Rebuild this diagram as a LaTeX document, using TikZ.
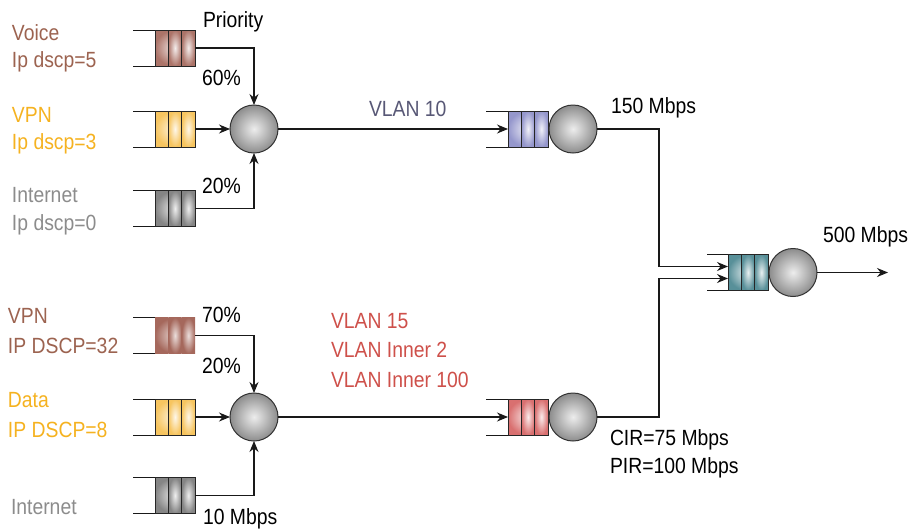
\documentclass[tikz,border=0pt]{standalone}
\usepackage{fontspec}
\setmainfont[FakeStretch=0.88]{Liberation Sans}
\usetikzlibrary{arrows.meta}
\definecolor{cBrown}{RGB}{165,104,92}
\definecolor{cOrange}{RGB}{246,192,82}
\definecolor{cGray}{RGB}{122,122,122}
\definecolor{cBlue}{RGB}{140,142,200}
\definecolor{cRed}{RGB}{214,100,100}
\definecolor{cTeal}{RGB}{74,134,144}
\definecolor{tBrown}{RGB}{156,99,80}
\definecolor{tOrange}{RGB}{245,178,32}
\definecolor{tGray}{RGB}{140,140,140}
\definecolor{tSlate}{RGB}{88,88,118}
\definecolor{tRed}{RGB}{206,80,74}
\begin{document}
\begin{tikzpicture}[x=1pt,y=-1pt,
  font=\fontsize{22}{26}\selectfont,
  queue/.style={rectangle, minimum width=40pt, minimum height=36pt, inner sep=0pt, outer sep=0pt,
    draw=black!85, line width=1pt,
    path picture={
      \foreach \i in {0,1,2}{
        \shade[inner color=#1!12!white, outer color=#1!92!white]
          ([xshift=\i*13.333pt]path picture bounding box.south west) rectangle
          ([xshift=\i*13.333pt+13.333pt]path picture bounding box.north west);
      }
      \draw[line width=1pt, black!85]
        ([xshift=13.333pt]path picture bounding box.south west) -- ([xshift=13.333pt]path picture bounding box.north west)
        ([xshift=26.667pt]path picture bounding box.south west) -- ([xshift=26.667pt]path picture bounding box.north west);
    }},
  queuesoft/.style={rectangle, minimum width=40pt, minimum height=36pt, inner sep=0pt, outer sep=0pt,
    draw=none,
    path picture={
      \foreach \i in {0,1,2}{
        \shade[inner color=#1!22!white, outer color=#1]
          ([xshift=\i*13.333pt]path picture bounding box.south west) rectangle
          ([xshift=\i*13.333pt+13.333pt]path picture bounding box.north west);
      }
    }},
  circ/.style={circle, minimum size=48pt, inner sep=0pt, outer sep=0pt, draw=black!80,
    line width=1pt, inner color=black!7, outer color=black!45},
  qline/.style={line width=1pt, black!90},
  conn/.style={line width=1.1pt, black!90},
  arr/.style={conn, -{Stealth[length=11pt,width=9pt]}},
  lbl/.style={anchor=base west, inner sep=0pt, outer sep=0pt}
]
\useasboundingbox (0,0) rectangle (911,528);

% ---------- top group ----------
\node[queue=cBrown]  (q1) at (175,48) {};
\node[queue=cOrange] (q2) at (175,129) {};
\node[queue=cGray]   (q3) at (175,208.5) {};
\node[circ] (c1) at (254,129) {};
\foreach \q in {q1,q2,q3}{
  \draw[qline] (\q.north west) -- ++(-22,0);
  \draw[qline] (\q.south west) -- ++(-22,0);
}
\draw[arr] (q1.east) -| (c1.north);
\draw[arr] (q2.east) -- (c1.west);
\draw[arr] (q3.east) -| (c1.south);

\node[lbl, text=tBrown]  (tVoice) at (12,40.5) {Voice};
\node[lbl, text=tBrown]  (tVoiceD) at (12,67.5) {Ip dscp=5};
\node[lbl, text=tOrange] (tVPN1) at (12,122) {VPN};
\node[lbl, text=tOrange] (tVPN1D) at (12,149) {Ip dscp=3};
\node[lbl, text=tGray]   (tInt1) at (12,202) {Internet};
\node[lbl, text=tGray]   (tInt1D) at (12,230) {Ip dscp=0};
\node[lbl] (tPrio) at (203,27) {Priority};
\node[lbl] (t60) at (202,85) {60\%};
\node[lbl] (t20a) at (202,193) {20\%};

% ---------- bottom group ----------
\node[queuesoft=cBrown] (q6) at (175,335.5) {};
\node[queue=cOrange] (q7) at (175,417) {};
\node[queue=cGray]   (q8) at (175,495.5) {};
\node[circ] (c2) at (254,417) {};
\foreach \q in {q6,q7,q8}{
  \draw[qline] (\q.north west) -- ++(-22,0);
  \draw[qline] (\q.south west) -- ++(-22,0);
}
\draw[arr] (q6.east) -| (c2.north);
\draw[arr] (q7.east) -- (c2.west);
\draw[arr] (q8.east) -| (c2.south);

\node[lbl, text=tBrown]  (tVPN2) at (8,323) {VPN};
\node[lbl, text=tBrown]  (tVPN2D) at (8,353) {IP DSCP=32};
\node[lbl, text=tOrange] (tData) at (8,407) {Data};
\node[lbl, text=tOrange] (tDataD) at (8,437) {IP DSCP=8};
\node[lbl, text=tGray]   (tInt2) at (11,514) {Internet};
\node[lbl] (t70) at (202,322) {70\%};
\node[lbl] (t20b) at (202,373) {20\%};
\node[lbl] (t10) at (203,524) {10 Mbps};

% ---------- middle ----------
\node[queue=cBlue] (q4) at (528,129) {};
\node[circ] (c3) at (573,129) {};
\draw[qline] (q4.north west) -- ++(-22,0);
\draw[qline] (q4.south west) -- ++(-22,0);
\draw[arr] (c1.east) -- (q4.west);
\node[lbl, text=tSlate] (tVlan10) at (369,116) {VLAN 10};
\node[lbl] (t150) at (611,113) {150 Mbps};

\node[queue=cRed] (q9) at (528,417) {};
\node[circ] (c4) at (573,417) {};
\draw[qline] (q9.north west) -- ++(-22,0);
\draw[qline] (q9.south west) -- ++(-22,0);
\draw[arr] (c2.east) -- (q9.west);
\node[lbl, text=tRed] (tV15) at (331,328) {VLAN 15};
\node[lbl, text=tRed] (tV2) at (331,357) {VLAN Inner 2};
\node[lbl, text=tRed] (tV100) at (331,387) {VLAN Inner 100};
\node[lbl] (tCIR) at (610,445) {CIR=75 Mbps};
\node[lbl] (tPIR) at (610,473) {PIR=100 Mbps};

% ---------- right ----------
\node[queue=cTeal] (q5) at (748,272.5) {};
\node[circ] (c5) at (793,272.5) {};
\draw[qline] (q5.north west) -- ++(-21,0);
\draw[qline] (q5.south west) -- ++(-21,0);
\coordinate (j1) at (659,266.5);
\coordinate (j2) at (659,278.5);
\coordinate (out) at (888,272.5);
\draw[arr] (c3.east) -| (j1) -- (j1 -| q5.west);
\draw[arr] (c4.east) -| (j2) -- (j2 -| q5.west);
\draw[arr] (c5.east) -- (out);
\node[lbl] (t500) at (823,242) {500 Mbps};
\end{tikzpicture}
\end{document}
